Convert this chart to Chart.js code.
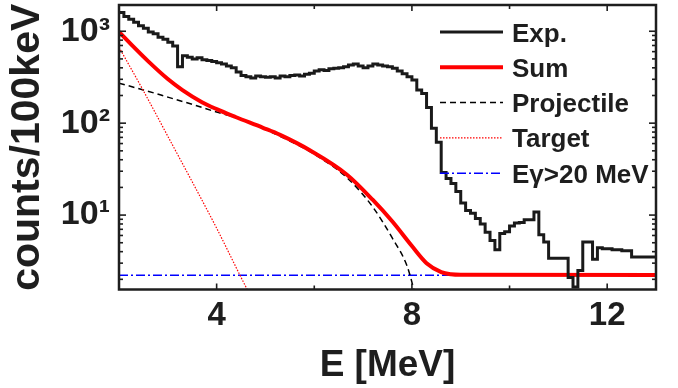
<!DOCTYPE html>
<html>
<head>
<meta charset="utf-8">
<script src="https://cdn.jsdelivr.net/npm/chart.js@4/dist/chart.umd.min.js"></script>
<style>
html,body{margin:0;padding:0;background:#fff;}
canvas{display:block;}
</style>
</head>
<body>
<canvas id="c" width="678" height="388"></canvas>
<script>
// ---- data ----
const expBinStart = 2.0;
const expBinWidth = 0.1;
const expCounts = [
  1600,1450,1350,1250,1150,1080,980,940,860,820,
  760,690,410,540,520,500,515,490,480,470,
  455,440,420,400,360,330,320,310,325,320,
  315,320,310,325,320,330,335,325,340,350,
  370,380,375,390,395,400,410,430,440,420,
  400,420,440,430,420,410,395,370,345,320,
  295,230,210,148,88,62,29,25,22,18,
  13.5,11.2,10.5,9.2,8.0,6.5,5.3,4.2,6.3,6.6,
  7.6,8.2,8.3,8.9,8.9,10.8,6.1,5.1,3.4,3.4,
  3.4,3.4,2.1,1.65,2.5,5.1,5.1,3.3,4.4,4.3,
  4.3,4.2,4.2,4.1,4.1,3.5,3.5,3.5,3.5,3.5
];
const sumE   = [2.0,2.3,2.6,3.0,3.3,3.7,4.0,4.4,4.95,5.3,5.9,6.67,7.2,7.6,8.0,8.3,8.6,8.8,9.0,13.0];
const sumVal = [985,675,470,302,229,169,142,116,89,74.5,51,27.5,14.6,8.5,4.6,3.0,2.4,2.27,2.24,2.23];
const projE   = [2.0,2.5,3.0,3.5,4.0,4.5,5.0,5.5,6.0,6.67,7.2,7.6,7.9,8.02,8.15];
const projVal = [272,230,192,160,132,111,85,64,46,25.5,12.2,5.6,2.8,1.7,0.9];
const targE   = [2.0,2.5,3.0,3.5,4.0,4.5,4.7];
const targVal = [670,225,72,23,7.2,2.1,1.3];
const bgE   = [2.0,13.0];
const bgVal = [2.22,2.22];
const xTicks = [4,6,8,10,12];
const xLabels = {4:'4',8:'8',12:'12'};
const yTicks = [2,3,4,5,6,7,8,9,10,20,30,40,50,60,70,80,90,100,200,300,400,500,600,700,800,900,1000];
const yLabels = {10:'10\u00B9',100:'10\u00B2',1000:'10\u00B3'};
const legendLabels = ['Exp.','Sum','Projectile','Target','E\u03B3>20 MeV'];

// ---- build ----
const pts = (xs, ys) => xs.map((x,i)=>({x:x, y:ys[i]}));
const expPts = expCounts.map((v,i)=>({x: +(expBinStart + i*expBinWidth).toFixed(2), y: v}));
expPts.push({x: +(expBinStart + expCounts.length*expBinWidth).toFixed(2), y: expCounts[expCounts.length-1]});

const FONT = '"Liberation Sans", Arial, Helvetica, sans-serif';
const INK = '#1e1e1e';

const framePlugin = {
  id: 'frame',
  afterDatasetsDraw(chart) {
    const {ctx, chartArea: a, scales} = chart;
    const x = scales.x, y = scales.y;
    ctx.save();
    ctx.strokeStyle = INK;
    ctx.lineWidth = 1.6;
    const ln = (x1,y1,x2,y2)=>{ctx.beginPath();ctx.moveTo(x1,y1);ctx.lineTo(x2,y2);ctx.stroke();};
    x.ticks.forEach(t=>{
      const px = x.getPixelForValue(t.value);
      const len = xLabels[t.value] ? 6 : 4;
      ln(px, a.bottom, px, a.bottom-len);
      ln(px, a.top, px, a.top+len);
    });
    y.ticks.forEach(t=>{
      const py = y.getPixelForValue(t.value);
      const len = yLabels[t.value] ? 7 : 4;
      ln(a.left, py, a.left+len, py);
      ln(a.right, py, a.right-len, py);
    });
    ctx.lineWidth = 2.5;
    ctx.strokeRect(a.left, a.top, a.right-a.left, a.bottom-a.top);
    ctx.restore();
  }
};

const legendPlugin = {
  id: 'mylegend',
  afterDraw(chart) {
    const {ctx} = chart;
    const x0 = 440, x1 = 503, tx = 512;
    const base0 = 41.5, step = 35.3;
    ctx.save();
    chart.data.datasets.forEach((ds,i)=>{
      const b = base0 + i*step;
      const ly = b - 9.5;
      ctx.strokeStyle = ds.borderColor;
      ctx.lineWidth = ds.borderWidth;
      ctx.setLineDash(ds.borderDash || []);
      ctx.beginPath(); ctx.moveTo(x0, ly); ctx.lineTo(x1, ly); ctx.stroke();
      ctx.setLineDash([]);
      ctx.fillStyle = INK;
      ctx.font = 'bold 26px ' + FONT;
      ctx.textBaseline = 'alphabetic';
      ctx.textAlign = 'left';
      ctx.fillText(legendLabels[i], tx, b);
    });
    ctx.restore();
  }
};

new Chart(document.getElementById('c'), {
  type: 'line',
  data: {
    datasets: [
      {label: legendLabels[0], data: expPts, borderColor: '#1a1a1a', borderWidth: 3, stepped: true, pointRadius: 0, order: 1},
      {label: legendLabels[1], data: pts(sumE,sumVal), borderColor: '#ff0000', borderWidth: 4, cubicInterpolationMode: 'monotone', pointRadius: 0, order: 2},
      {label: legendLabels[2], data: pts(projE,projVal), borderColor: '#000000', borderWidth: 1.5, borderDash: [6,4], cubicInterpolationMode: 'monotone', pointRadius: 0, order: 4},
      {label: legendLabels[3], data: pts(targE,targVal), borderColor: '#ff0000', borderWidth: 1.2, borderDash: [1.5,1.5], cubicInterpolationMode: 'monotone', pointRadius: 0, order: 3},
      {label: legendLabels[4], data: pts(bgE,bgVal), borderColor: '#0000ff', borderWidth: 1.5, borderDash: [9,3,2,3], pointRadius: 0, order: 5}
    ]
  },
  options: {
    responsive: false,
    animation: false,
    events: [],
    layout: {padding: {left: 0, right: 22, top: 5, bottom: 0}},
    plugins: {legend: {display: false}, tooltip: {enabled: false}},
    scales: {
      x: {
        type: 'linear', min: 2, max: 13,
        afterBuildTicks: s => { s.ticks = xTicks.map(v=>({value:v})); },
        afterFit: s => { s.height = 98.5; s.paddingLeft = 0; s.paddingRight = 0; },
        grid: {display: false, drawTicks: false},
        border: {display: false},
        ticks: {autoSkip: false, maxRotation: 0, padding: 7, color: INK,
          font: {family: FONT, size: 33, weight: 'bold'},
          callback: v => xLabels[v] || ''},
        title: {display: true, text: 'E [MeV]', color: INK, padding: {top: 0, bottom: 0},
          font: {family: FONT, size: 37, weight: 'bold'}}
      },
      y: {
        type: 'logarithmic', min: 1.55, max: 1930,
        afterBuildTicks: s => { s.ticks = yTicks.map(v=>({value:v})); },
        afterFit: s => { s.width = 119; s.paddingTop = 0; s.paddingBottom = 0; },
        grid: {display: false, drawTicks: false},
        border: {display: false},
        ticks: {autoSkip: false, padding: 9, color: INK,
          font: {family: FONT, size: 34, weight: 'bold'},
          callback: v => yLabels[v] || ''},
        title: {display: true, text: 'counts/100keV', color: INK, padding: {top: 3, bottom: 0},
          font: {family: FONT, size: 41, weight: 'bold'}}
      }
    }
  },
  plugins: [framePlugin, legendPlugin]
});
</script>
</body>
</html>
